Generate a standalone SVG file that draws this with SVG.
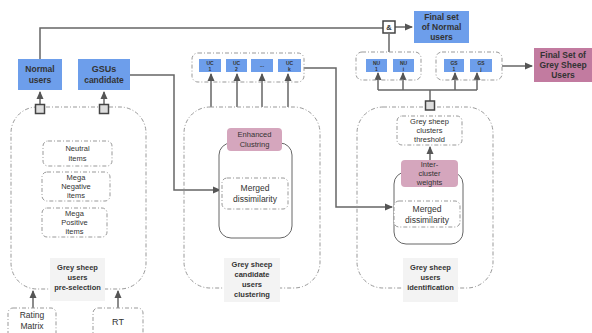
<svg xmlns="http://www.w3.org/2000/svg" width="592" height="333" viewBox="0 0 592 333">
<style>
.blue{fill:#6d9eeb;}
.pink{fill:#d5a6bd;}
.dpink{fill:#c27ba0;}
.dash{fill:none;stroke:#999;stroke-width:1;stroke-dasharray:4 2 1 2;}
.dashw{fill:#fff;stroke:#999;stroke-width:1;stroke-dasharray:4 2 1 2;}
.solid{fill:#fff;stroke:#666;stroke-width:1;}
.lbl{fill:#f3f3f3;}
.ln{fill:none;stroke:#666;stroke-width:1.5;}
text{font-family:"Liberation Sans",Arial,sans-serif;fill:#333333;text-anchor:middle;}
.b{font-weight:bold;}
.t8{font-size:8.5px;}
.t9{font-size:9px;}
.t7{font-size:7.5px;}
.t5{font-size:5px;}
.sq{fill:#ddd;stroke:#444;stroke-width:1.5;}
</style>
<defs>
<marker id="ah" markerWidth="8" markerHeight="8" refX="7" refY="4" orient="auto" markerUnits="userSpaceOnUse">
<path d="M0,0.5 L8,4 L0,7.5 z" fill="#555"/>
</marker>
</defs>

<g id="connectors">
<polyline class="ln" points="40,59 40,28 383,28"/>
<line class="ln" x1="395" y1="27" x2="412" y2="27" marker-end="url(#ah)"/>
<line class="ln" x1="389" y1="34" x2="389" y2="52"/>
<polyline class="ln" points="130,75 174,75 174,190 220,190" marker-end="url(#ah)"/>
<polyline class="ln" points="304,68 336,68 336,207 392,207" marker-end="url(#ah)"/>
<line class="ln" x1="40" y1="104" x2="40" y2="92" marker-end="url(#ah)"/>
<line class="ln" x1="104" y1="104" x2="104" y2="92" marker-end="url(#ah)"/>
<line class="ln" x1="33" y1="308" x2="33" y2="291" marker-end="url(#ah)"/>
<line class="ln" x1="118" y1="308" x2="118" y2="291" marker-end="url(#ah)"/>
<line class="ln" x1="211" y1="107" x2="211" y2="74" marker-end="url(#ah)"/>
<line class="ln" x1="237" y1="107" x2="237" y2="74" marker-end="url(#ah)"/>
<line class="ln" x1="262" y1="107" x2="262" y2="74" marker-end="url(#ah)"/>
<line class="ln" x1="288" y1="107" x2="288" y2="74" marker-end="url(#ah)"/>
<line class="ln" x1="378" y1="90" x2="477" y2="90"/>
<line class="ln" x1="378" y1="90" x2="378" y2="73" marker-end="url(#ah)"/>
<line class="ln" x1="403" y1="90" x2="403" y2="73" marker-end="url(#ah)"/>
<line class="ln" x1="455" y1="90" x2="455" y2="73" marker-end="url(#ah)"/>
<line class="ln" x1="477" y1="90" x2="477" y2="73" marker-end="url(#ah)"/>
<line class="ln" x1="430" y1="90" x2="430" y2="101"/>
<line class="ln" x1="502" y1="66" x2="532" y2="66" marker-end="url(#ah)"/>
<line class="ln" x1="430" y1="160" x2="430" y2="147" marker-end="url(#ah)"/>
</g>

<g id="preselection">
<rect class="dash" x="11" y="107" width="135" height="182" rx="26"/>
<rect class="lbl" x="50" y="258" width="55" height="43"/>
<text class="b t7" x="77.5" y="270">Grey sheep</text>
<text class="b t7" x="77.5" y="280">users</text>
<text class="b t7" x="77.5" y="290">pre-selection</text>
</g>
<g id="neutral">
<rect class="dashw" x="43" y="141" width="69" height="25" rx="5"/>
<text class="t7" x="77.5" y="151">Neutral</text>
<text class="t7" x="77.5" y="161">items</text>
</g>
<g id="meganeg">
<rect class="dashw" x="42" y="172" width="68" height="29" rx="5"/>
<text class="t7" x="76" y="180">Mega</text>
<text class="t7" x="76" y="189">Negative</text>
<text class="t7" x="76" y="198">items</text>
</g>
<g id="megapos">
<rect class="dashw" x="42" y="208" width="65" height="29" rx="5"/>
<text class="t7" x="74.5" y="216">Mega</text>
<text class="t7" x="74.5" y="225">Positive</text>
<text class="t7" x="74.5" y="234">items</text>
</g>
<g id="sq1"><rect class="sq" x="35.5" y="104.5" width="9" height="9"/></g>
<g id="sq2"><rect class="sq" x="99.5" y="104.5" width="9" height="9"/></g>
<g id="normal">
<rect class="blue" x="18" y="59" width="44" height="31"/>
<text class="b t8" x="40" y="72">Normal</text>
<text class="b t8" x="40" y="83">users</text>
</g>
<g id="gsus">
<rect class="blue" x="78" y="59" width="52" height="31"/>
<text class="b t9" x="104" y="72">GSUs</text>
<text class="b t8" x="104" y="83">candidate</text>
</g>
<g id="rating">
<rect class="dashw" x="8" y="308" width="48" height="30" rx="5"/>
<text class="t8" x="32" y="318">Rating</text>
<text class="t8" x="32" y="329">Matrix</text>
</g>
<g id="rt">
<rect class="dashw" x="93" y="308" width="50" height="30" rx="5"/>
<text class="t9" x="118" y="325">RT</text>
</g>

<g id="clustering">
<rect class="dash" x="184" y="107" width="136" height="181" rx="26"/>
<rect class="solid" x="219" y="143" width="73" height="95" rx="12"/>
<rect class="lbl" x="224" y="258" width="56" height="44"/>
<text class="b t7" x="252" y="267">Grey sheep</text>
<text class="b t7" x="252" y="277">candidate</text>
<text class="b t7" x="252" y="287">users</text>
<text class="b t7" x="252" y="297">clustering</text>
</g>
<g id="enhanced">
<rect class="pink" x="227" y="128" width="55" height="23" rx="4"/>
<text class="t7" x="254.5" y="137">Enhanced</text>
<text class="t7" x="254.5" y="147">Clustring</text>
</g>
<g id="merged1">
<rect class="dashw" x="222" y="178" width="66" height="31" rx="5"/>
<text class="t8" x="255" y="191">Merged</text>
<text class="t8" x="255" y="202">dissimilarity</text>
</g>
<g id="ucgroup">
<rect class="dash" x="192" y="53" width="112" height="29" rx="6"/>
<rect class="blue" x="199" y="59" width="22" height="13"/>
<text class="b t5" x="210" y="65">UC</text><text class="b t5" x="210" y="71">1</text>
<rect class="blue" x="226" y="59" width="21" height="13"/>
<text class="b t5" x="236.5" y="65">UC</text><text class="b t5" x="236.5" y="71">2</text>
<rect class="blue" x="251" y="59" width="22" height="13"/>
<text class="b t5" x="262" y="67">...</text>
<rect class="blue" x="278" y="59" width="23" height="13"/>
<text class="b t5" x="289.5" y="65">UC</text><text class="b t5" x="289.5" y="71">k</text>
</g>

<g id="identification">
<rect class="dash" x="357" y="107" width="136" height="181" rx="26"/>
<rect class="solid" x="394" y="172" width="69" height="72" rx="12"/>
<rect class="lbl" x="403" y="258" width="55" height="44"/>
<text class="b t7" x="430.5" y="270">Grey sheep</text>
<text class="b t7" x="430.5" y="280">users</text>
<text class="b t7" x="430.5" y="290">identification</text>
</g>
<g id="threshold">
<rect class="dashw" x="397" y="116" width="65" height="29" rx="5"/>
<text class="t7" x="429.5" y="124">Grey sheep</text>
<text class="t7" x="429.5" y="133">clusters</text>
<text class="t7" x="429.5" y="142">threshold</text>
</g>
<g id="intercluster">
<rect class="pink" x="401" y="160" width="57" height="27" rx="4"/>
<text class="t7" x="429.5" y="167">Inter-</text>
<text class="t7" x="429.5" y="176">cluster</text>
<text class="t7" x="429.5" y="185">weights</text>
</g>
<g id="merged2">
<rect class="dashw" x="394" y="201" width="66" height="26" rx="5"/>
<text class="t8" x="427" y="212">Merged</text>
<text class="t8" x="427" y="223">dissimilarity</text>
</g>
<g id="sq3"><rect class="sq" x="425.5" y="101" width="9" height="9"/></g>
<g id="nugroup">
<rect class="dash" x="356" y="52" width="65" height="28" rx="6"/>
<rect class="blue" x="366" y="59" width="21" height="13"/>
<text class="b t5" x="376.5" y="65">NU</text><text class="b t5" x="376.5" y="71">1</text>
<rect class="blue" x="393" y="59" width="21" height="13"/>
<text class="b t5" x="403.5" y="65">NU</text><text class="b t5" x="403.5" y="71">i</text>
</g>
<g id="gsgroup">
<rect class="dash" x="436" y="52" width="66" height="28" rx="6"/>
<rect class="blue" x="444" y="59" width="20" height="13"/>
<text class="b t5" x="454" y="65">GS</text><text class="b t5" x="454" y="71">1</text>
<rect class="blue" x="470" y="59" width="22" height="13"/>
<text class="b t5" x="481" y="65">GS</text><text class="b t5" x="481" y="71">j</text>
</g>
<g id="and">
<rect x="383" y="21" width="12" height="12" fill="#fff" stroke="#444" stroke-width="1.5"/>
<text class="b t7" x="389" y="30">&amp;</text>
</g>
<g id="finalnormal">
<rect class="blue" x="414" y="11" width="55" height="32"/>
<text class="b t8" x="441.5" y="20">Final set</text>
<text class="b t8" x="441.5" y="30">of Normal</text>
<text class="b t8" x="441.5" y="40">users</text>
</g>
<g id="finalgrey">
<rect class="dpink" x="534" y="48" width="58" height="34"/>
<text class="b t8" x="563" y="58">Final Set of</text>
<text class="b t8" x="563" y="68">Grey Sheep</text>
<text class="b t8" x="563" y="78">Users</text>
</g>
</svg>
